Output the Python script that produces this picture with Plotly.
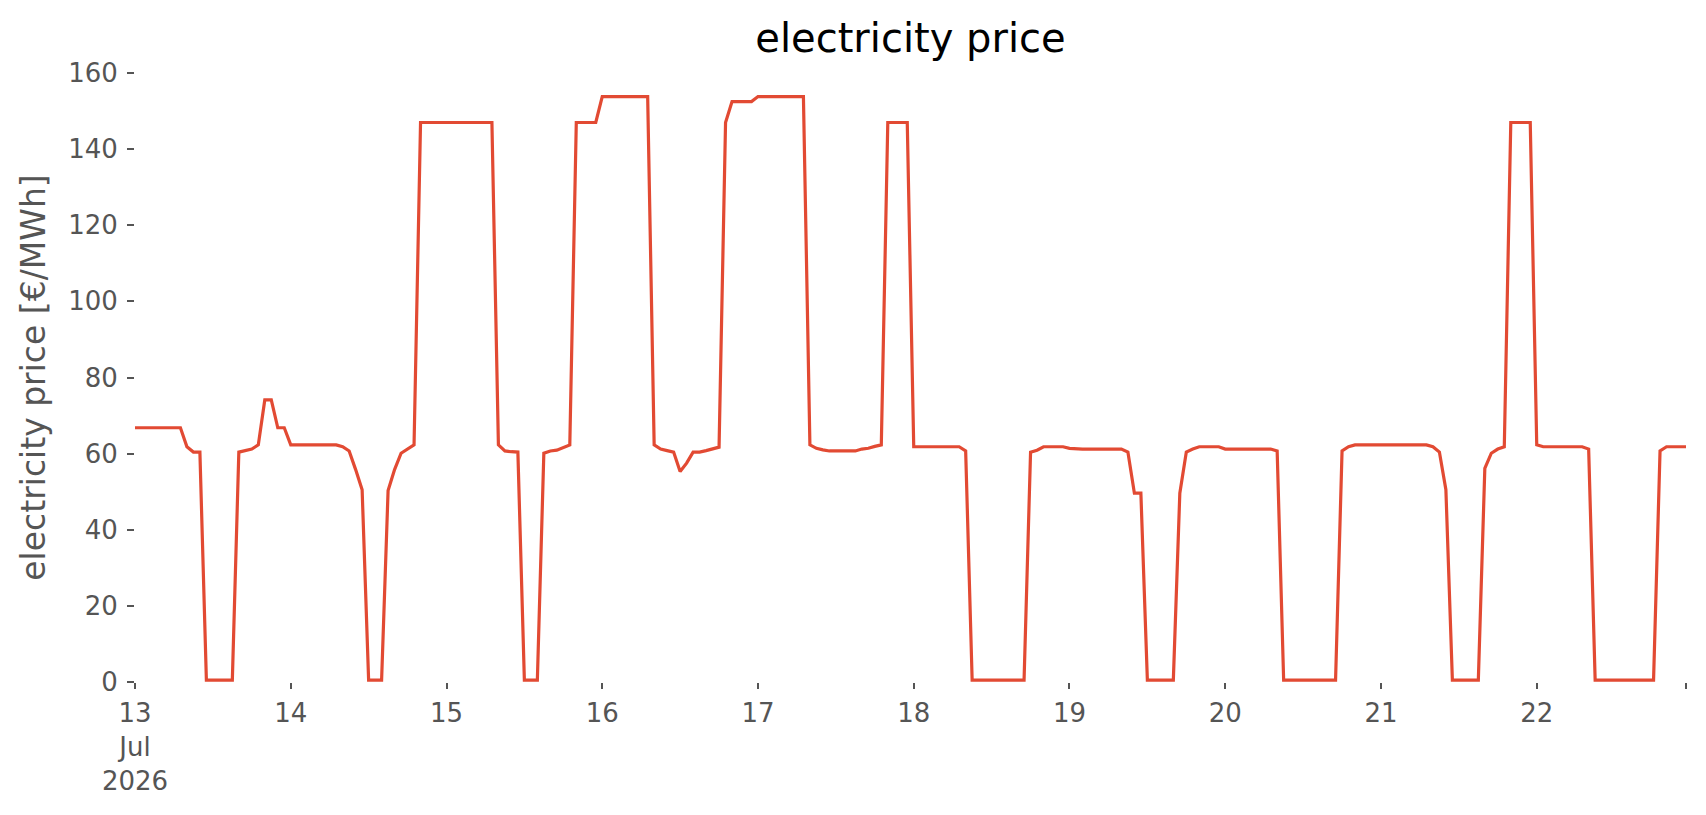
import pandas as pd
import plotly.graph_objects as go

start = "2026-07-13 00:00"
n_hours = 240

day13 = [66.8]*8 + [61.8, 60.4, 60.4] + [0.5]*5 + [60.4, 60.7, 61.2, 62.3, 74.1, 74.1, 66.8, 66.8]
day14 = [62.3]*8 + [61.8, 60.7, 55.8, 50.5] + [0.5]*3 + [50.3, 55.8, 60.1, 61.2, 62.3] + [147.0]*4
day15 = [147.0]*8 + [62.3, 60.7, 60.5, 60.4] + [0.5]*3 + [60.1, 60.7, 60.9, 61.6, 62.3] + [147.0]*4
day16 = [153.8]*8 + [62.3, 61.2, 60.8, 60.4, 55.3, 57.5, 60.4, 60.4, 60.8, 61.2, 61.7, 147.0] + [152.5]*4
day17 = [153.8]*8 + [62.3, 61.4, 61.0] + [60.7]*5 + [61.2, 61.4, 61.9, 62.3] + [147.0]*4
day18 = [61.8]*8 + [60.7] + [0.5]*9 + [60.4, 60.9] + [61.8]*4
day19 = [61.4] + [61.2]*8 + [60.4, 49.6, 49.6] + [0.5]*5 + [49.6, 60.4, 61.2] + [61.8]*4
day20 = [61.2]*8 + [60.7] + [0.5]*9 + [60.7, 61.8] + [62.3]*4
day21 = [62.3]*8 + [61.8, 60.4, 50.5] + [0.5]*5 + [56.1, 60.1, 61.2, 61.8] + [147.0]*4
day22 = [62.3] + [61.8]*7 + [61.2] + [0.5]*10 + [60.7] + [61.8]*4

price = day13 + day14 + day15 + day16 + day17 + day18 + day19 + day20 + day21 + day22
times = pd.date_range(start, periods=n_hours, freq="h")

tick_days = pd.date_range("2026-07-13", periods=10, freq="D")
tick_labels = ["13<br>Jul<br>2026", "14", "15", "16", "17", "18", "19", "20", "21", "22"]
y_ticks = [0, 20, 40, 60, 80, 100, 120, 140, 160]

W, H = 1698, 807

fig = go.Figure()
fig.add_trace(go.Scatter(x=times, y=price, mode="lines",
                         line=dict(color="#E24A33", width=3.2), showlegend=False))

fig.update_layout(
    width=W, height=H,
    paper_bgcolor="white", plot_bgcolor="white",
    margin=dict(l=127, r=20, t=65, b=133, pad=0),
    font=dict(family="DejaVu Sans", color="#555555"),
    title=dict(text="electricity price", x=0.5, xref="paper", xanchor="center",
               y=1 - 30/H, yanchor="middle", yref="container",
               font=dict(size=40, color="black", family="DejaVu Sans")),
)
fig.update_xaxes(
    type="date", range=[times[0], times[-1]],
    tickvals=list(tick_days) + [times[-1]], ticktext=tick_labels + [""],
    ticks="outside", ticklen=6, tickwidth=2, tickcolor="#555555",
    ticklabelstandoff=2,
    showgrid=False, zeroline=False, showline=False,
    tickfont=dict(size=26, color="#555555"),
)
fig.update_yaxes(
    range=[0, 160], tickvals=y_ticks,
    ticks="outside", ticklen=7, tickwidth=1.5, tickcolor="#555555",
    ticklabelstandoff=4,
    showgrid=False, zeroline=False, showline=False,
    tickfont=dict(size=26, color="#555555"),
    title=dict(text="electricity price [€/MWh]", standoff=12,
               font=dict(size=33, color="#555555", family="DejaVu Sans")),
)

fig.write_html("out.html")
